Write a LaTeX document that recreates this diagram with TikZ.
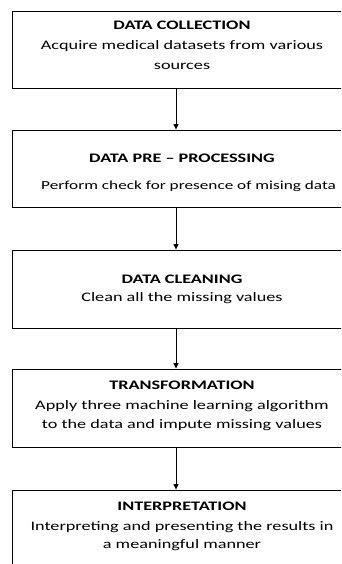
\documentclass[tikz,border=0pt]{standalone}
\usepackage{fontspec}
\setmainfont{Carlito}[FakeStretch=1.4]
\usetikzlibrary{arrows.meta}
\begin{document}
\begin{tikzpicture}[x=1pt,y=-1pt,
  stage/.style={draw=black, line width=0.9pt, minimum width=339.5pt, inner sep=0pt},
  ttl/.style={anchor=base, inner sep=0pt, font=\fontsize{13}{16}\selectfont\bfseries},
  txt/.style={anchor=base, inner sep=0pt, font=\fontsize{13}{16}\selectfont},
  flow/.style={line width=0.8pt, -{Triangle[width=5pt,length=5.5pt]}}]
\useasboundingbox (0,0) rectangle (341,564);
\clip (0,0) rectangle (341,564);

% stage boxes (right side runs past the page edge)
\node[stage, minimum height=77pt] (b1) at (182.25,49.5) {};
\node[stage, minimum height=77pt] (b2) at (182.25,168.5) {};
\node[stage, minimum height=78pt] (b3) at (182.25,289) {};
\node[stage, minimum height=78pt] (b4) at (182.25,408) {};
\node[stage, minimum height=80pt] (b5) at (182.25,530) {};

% texts
\node[ttl] (t1) at (182,30) {DATA COLLECTION};
\node[txt] (t1a) at (182,49.5) {Acquire medical datasets from various};
\node[txt] (t1b) at (182,69.5) {sources};

\node[ttl] (t2) at (182,163) {DATA PRE -- PROCESSING};
\node[txt, font=\fontsize{12.3}{15}\selectfont] (t2a) at (188.5,189) {Perform check for presence of mising data};

\node[ttl] (t3) at (182,283) {DATA CLEANING};
\node[txt] (t3a) at (182,301) {Clean all the missing values};

\node[ttl] (t4) at (182,389) {TRANSFORMATION};
\node[txt] (t4a) at (182,409) {Apply three machine learning algorithm};
\node[txt] (t4b) at (182,428.5) {to the data and impute missing values};

\node[ttl] (t5) at (182,510.5) {INTERPRETATION};
\node[txt] (t5a) at (182,530) {Interpreting and presenting the results in};
\node[txt] (t5b) at (182,548.5) {a meaningful manner};

% connectors
\coordinate (ax) at (176,0);
\draw[flow] (b1.south -| ax) -- (b2.north -| ax);
\draw[flow] (b2.south -| ax) -- (b3.north -| ax);
\draw[flow] (b3.south -| ax) -- (b4.north -| ax);
\draw[flow] (b4.south -| ax) -- (b5.north -| ax);
\end{tikzpicture}
\end{document}
